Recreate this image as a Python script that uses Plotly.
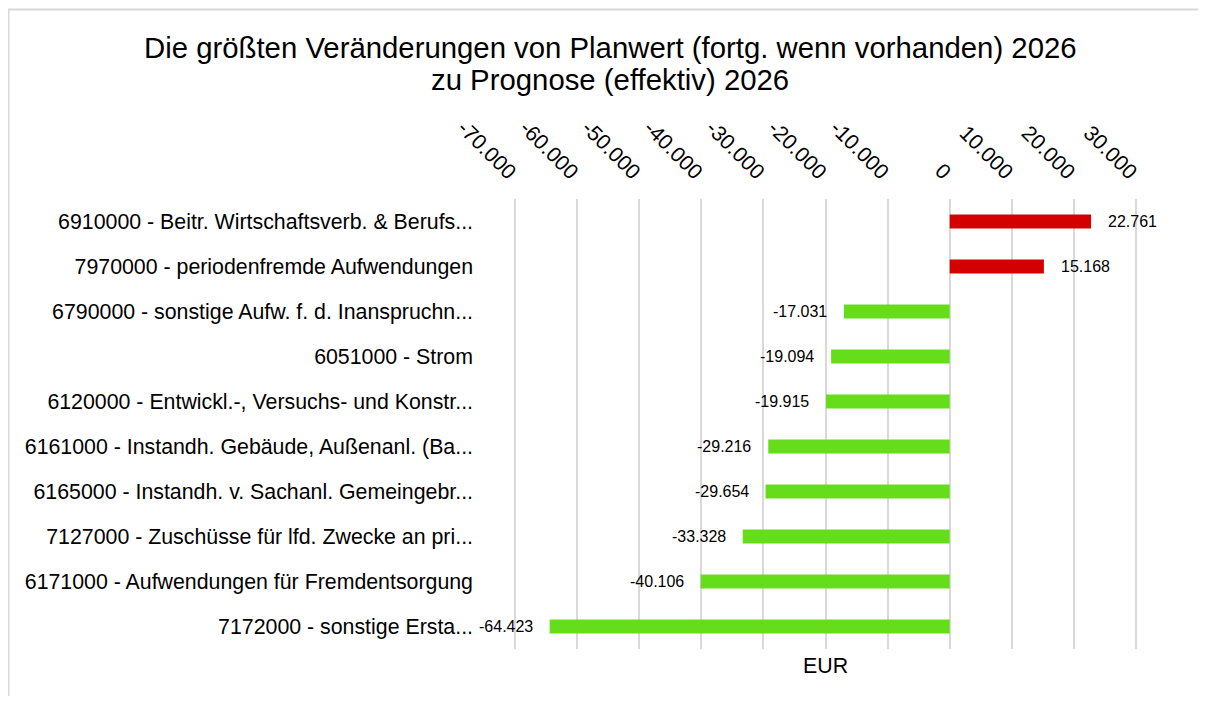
import plotly.graph_objects as go

categories = [
    "6910000 - Beitr. Wirtschaftsverb. & Berufs...",
    "7970000 - periodenfremde Aufwendungen",
    "6790000 - sonstige Aufw. f. d. Inanspruchn...",
    "6051000 - Strom",
    "6120000 - Entwickl.-, Versuchs- und Konstr...",
    "6161000 - Instandh. Gebäude, Außenanl. (Ba...",
    "6165000 - Instandh. v. Sachanl. Gemeingebr...",
    "7127000 - Zuschüsse für lfd. Zwecke an pri...",
    "6171000 - Aufwendungen für Fremdentsorgung",
    "7172000 - sonstige Ersta...",
]
values = [22761, 15168, -17031, -19094, -19915, -29216, -29654, -33328, -40106, -64423]
tick_vals = [-70000, -60000, -50000, -40000, -30000, -20000, -10000, 0, 10000, 20000, 30000]
title_lines = [
    "Die größten Veränderungen von Planwert (fortg. wenn vorhanden) 2026",
    "zu Prognose (effektiv) 2026",
]
axis_title = "EUR"

RED = "#d40000"
GREEN = "#66dd1a"
FONT = "Liberation Sans, Arial, sans-serif"
F16 = 21.33

def fmt(v):
    return f"{v:,}".replace(",", ".")

# page body has an 8px margin; figure coordinates are window minus 8
OFF = 8
EXT = 4  # extra px on each side so edge gridlines are drawn
W, H = 1190, 688
L, T = 515 - OFF - EXT, 199 - OFF
R = W - (1136 - OFF + EXT)
B = H - (649 - OFF)
pw, ph = W - L - R, H - T - B
units_per_px = 100000 / (pw - 2 * EXT)
xr = [-70000 - EXT * units_per_px, 30000 + EXT * units_per_px]

def px(xw):
    return (xw - OFF - L) / pw

def py(yw):
    return (H - B - (yw - OFF)) / ph

colors = [RED if v > 0 else GREEN for v in values]

fig = go.Figure(go.Bar(
    y=categories, x=values, orientation="h",
    marker=dict(color=colors, line=dict(width=0)),
    width=0.31, hoverinfo="skip",
))

for c, v in zip(categories, values):
    fig.add_annotation(
        x=v, y=c, xref="x", yref="y", text=fmt(v), showarrow=False,
        xanchor="left" if v > 0 else "right", xshift=15 if v > 0 else -15,
        font=dict(family=FONT, size=16, color="#000000"),
    )

fig.add_annotation(
    x=px(825.5), y=py(666), xref="paper", yref="paper", text=axis_title, showarrow=False,
    yanchor="middle", font=dict(family=FONT, size=F16, color="#000000"),
)

for line, yw in zip(title_lines, [47, 80]):
    fig.add_annotation(
        x=px(610), y=py(yw), xref="paper", yref="paper", text=line, showarrow=False,
        xanchor="center", yanchor="middle",
        font=dict(family=FONT, size=29.33, color="#000000"),
    )

fig.add_shape(
    type="rect", xref="paper", yref="paper",
    x0=px(8.5), x1=px(1230), y0=py(730), y1=py(9.5),
    line=dict(color="#d9d9d9", width=2), fillcolor="rgba(0,0,0,0)", layer="below",
)

fig.update_layout(
    width=W, height=H,
    margin=dict(l=L, r=R, t=T, b=B, pad=0),
    paper_bgcolor="white", plot_bgcolor="white",
    separators=",.",
    showlegend=False,
    xaxis=dict(
        side="top", range=xr, tickvals=tick_vals,
        ticktext=[fmt(t) for t in tick_vals], tickangle=45,
        showgrid=True, gridcolor="#d9d9d9", gridwidth=2,
        zeroline=False, showline=False, ticks="",
        tickfont=dict(family=FONT, size=F16, color="#000000"),
        ticklabelstandoff=10,
    ),
    yaxis=dict(
        autorange="reversed", showgrid=False, zeroline=False, showline=False,
        ticks="", tickfont=dict(family=FONT, size=F16, color="#000000"),
        ticklabelstandoff=41 - EXT,
    ),
)

fig.write_html("out.html")
